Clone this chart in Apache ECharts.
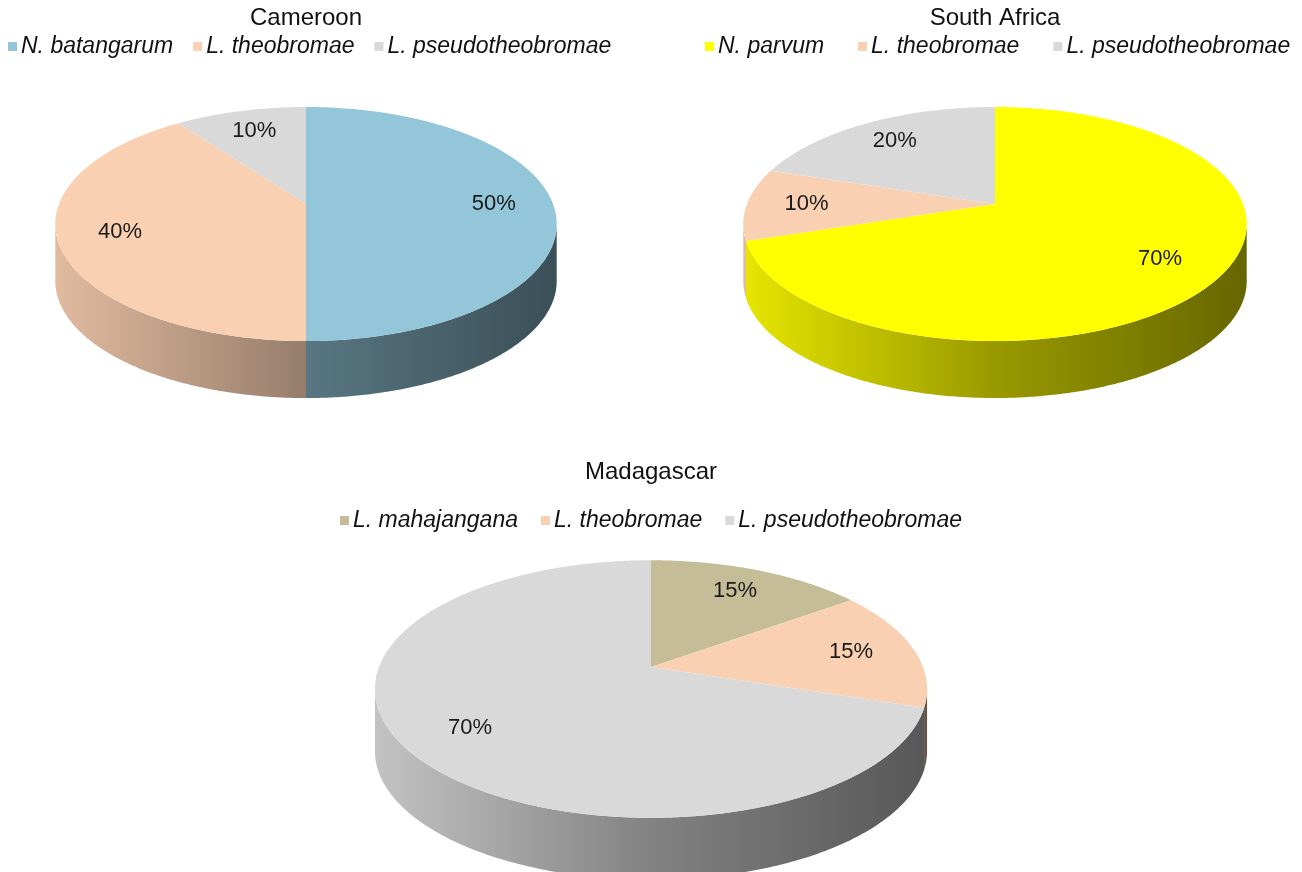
<!DOCTYPE html>
<html>
<head>
<meta charset="utf-8">
<title>Botryosphaeriaceae species by country</title>
<script src="https://cdn.jsdelivr.net/npm/echarts@6/dist/echarts.min.js"></script>
<style>
  html, body { margin: 0; padding: 0; background: #ffffff; }
  #chart { width: 1302px; height: 872px; }
</style>
</head>
<body>
<div id="chart"></div>
<script>
// ---- data ----
const regions = ['Cameroon', 'South Africa', 'Madagascar'];

const cameroonSpecies = ['N. batangarum', 'L. theobromae', 'L. pseudotheobromae'];
const cameroonShares = [50, 40, 10];

const southAfricaSpecies = ['N. parvum', 'L. theobromae', 'L. pseudotheobromae'];
const southAfricaShares = [70, 10, 20];

const madagascarSpecies = ['L. mahajangana', 'L. theobromae', 'L. pseudotheobromae'];
const madagascarShares = [15, 15, 70];

// ---- styles ----
const speciesColors = {
  'N. batangarum': '#93C6D9',
  'N. parvum': '#FFFF00',
  'L. mahajangana': '#C4BD97',
  'L. theobromae': '#FAD0B2',
  'L. pseudotheobromae': '#D9D9D9'
};
const FONT = '"Liberation Sans", Arial, Helvetica, sans-serif';

// ---- layout: perspective view of each pie disc ----
// cx / apexY: screen position of the disc centre, sx / sy: horizontal and
// vertical projection scales, persp: perspective strength, depth: rim height
const pieLayouts = [
  { cx: 306, apexY: 204, sx: 247, sy: 113.6, persp: 0.171, depth: 57,
    titleTop: 6, legendLeft: 3, legendTop: 30, legendGap: 20 },
  { cx: 995, apexY: 204, sx: 248, sy: 113.6, persp: 0.171, depth: 57,
    titleTop: 6, legendLeft: 700, legendTop: 30, legendGap: 34 },
  { cx: 651, apexY: 667, sx: 272, sy: 125, persp: 0.171, depth: 62,
    titleTop: 460, legendLeft: 335, legendTop: 504, legendGap: 23 }
];
const LABEL_REACH = 0.76;

const pies = [
  { name: regions[0], species: cameroonSpecies, shares: cameroonShares },
  { name: regions[1], species: southAfricaSpecies, shares: southAfricaShares },
  { name: regions[2], species: madagascarSpecies, shares: madagascarShares }
];

function shade(hex, f) {
  const n = parseInt(hex.slice(1), 16);
  const r = Math.round(((n >> 16) & 255) * f);
  const g = Math.round(((n >> 8) & 255) * f);
  const b = Math.round((n & 255) * f);
  return 'rgb(' + r + ',' + g + ',' + b + ')';
}

// projected point of the disc; angle clockwise from 12 o'clock,
// rho = fraction of the radius, dy = drop for the lower rim edge
function discPoint(L, t, rho, dy) {
  const w = 1 + L.persp * rho * Math.cos(t);
  return [
    L.cx + L.sx * rho * Math.sin(t) / w,
    L.apexY - L.sy * rho * Math.cos(t) / w + (dy || 0)
  ];
}

function arcPoints(L, a, b, dy) {
  const pts = [];
  const steps = Math.max(2, Math.ceil((b - a) / (Math.PI / 360)));
  for (let s = 0; s <= steps; s++) {
    pts.push(discPoint(L, a + (b - a) * s / steps, 1, dy));
  }
  return pts;
}

function renderSlice(pieIdx, sliceIdx, api) {
  const L = pieLayouts[pieIdx];
  const shares = pies[pieIdx].shares;
  const color = speciesColors[pies[pieIdx].species[sliceIdx]];
  const total = shares.reduce((s, v) => s + v, 0);
  const before = shares.slice(0, sliceIdx).reduce((s, v) => s + v, 0);
  const value = api.value(0);
  const a = before / total * Math.PI * 2;
  const b = (before + value) / total * Math.PI * 2;
  const children = [];

  // visible rim: front part of the disc between its left and right extremes
  const edge = Math.acos(-L.persp);
  const fa = Math.max(a, edge);
  const fb = Math.min(b, Math.PI * 2 - edge);
  if (fb > fa) {
    const halfW = L.sx / Math.sqrt(1 - L.persp * L.persp);
    const topArc = arcPoints(L, fa, fb, 0);
    const bottomArc = arcPoints(L, fa, fb, L.depth).reverse();
    children.push({
      type: 'polygon',
      shape: { points: topArc.concat(bottomArc) },
      style: {
        fill: new echarts.graphic.LinearGradient(L.cx - halfW, 0, L.cx + halfW, 0, [
          { offset: 0, color: shade(color, 0.9) },
          { offset: 0.5, color: shade(color, 0.6) },
          { offset: 1, color: shade(color, 0.4) }
        ], true)
      }
    });
  }

  // top face
  children.push({
    type: 'polygon',
    shape: { points: [discPoint(L, 0, 0, 0)].concat(arcPoints(L, a, b, 0)) },
    style: { fill: color }
  });

  // percentage label
  const pos = discPoint(L, (a + b) / 2, LABEL_REACH, 0);
  children.push({
    type: 'text',
    x: pos[0],
    y: pos[1],
    style: {
      text: Math.round(value / total * 100) + '%',
      font: '22px ' + FONT,
      fill: '#1a1a1a',
      align: 'center',
      verticalAlign: 'middle'
    }
  });

  return { type: 'group', children: children };
}

const series = [];
pies.forEach((pie, p) => {
  pie.species.forEach((sp, i) => {
    series.push({
      type: 'custom',
      name: sp,
      coordinateSystem: 'none',
      itemStyle: { color: speciesColors[sp] },
      data: [[pie.shares[i]]],
      renderItem: (params, api) => renderSlice(p, i, api)
    });
  });
});

const chart = echarts.init(document.getElementById('chart'), null, { renderer: 'canvas' });
chart.setOption({
  backgroundColor: '#ffffff',
  animation: false,
  title: pies.map((pie, p) => ({
    text: pie.name,
    left: pieLayouts[p].cx,
    top: pieLayouts[p].titleTop,
    padding: 0,
    textAlign: 'center',
    textStyle: { fontFamily: FONT, fontSize: 24, fontWeight: 'normal', color: '#111111' }
  })),
  legend: pies.map((pie, p) => ({
    data: pie.species,
    left: pieLayouts[p].legendLeft,
    top: pieLayouts[p].legendTop,
    icon: 'rect',
    itemWidth: 9,
    itemHeight: 9,
    itemGap: pieLayouts[p].legendGap,
    selectedMode: false,
    textStyle: { fontFamily: FONT, fontSize: 23, fontStyle: 'italic', color: '#111111', padding: [0, 0, 0, -1] }
  })),
  series: series
});
</script>
</body>
</html>
